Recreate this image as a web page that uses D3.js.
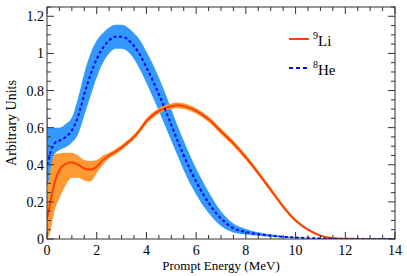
<!DOCTYPE html>
<html>
<head>
<meta charset="utf-8">
<script src="https://cdn.jsdelivr.net/npm/d3@7"></script>
<style>
  body { margin: 0; background: #fff; }
</style>
</head>
<body>
<script>
// energy grid (MeV)
var energy = [0, 0.05, 0.15, 0.3, 0.5, 0.75, 1.0, 1.25, 1.5, 1.75, 2.0, 2.25, 2.5, 2.75, 3.0, 3.25, 3.5, 3.75, 4.0, 4.5, 5.0, 5.25, 5.5, 6.0, 6.5, 7.0, 7.5, 8.0, 8.5, 9.0, 9.5, 10, 10.5, 11, 11.5, 12, 13, 14];

// 8He
var heMean = [0.40, 0.42, 0.47, 0.515, 0.53, 0.55, 0.585, 0.66, 0.78, 0.885, 0.97, 1.03, 1.07, 1.09, 1.09, 1.075, 1.04, 0.99, 0.925, 0.78, 0.615, 0.53, 0.45, 0.31, 0.195, 0.11, 0.058, 0.038, 0.026, 0.018, 0.012, 0.008, 0.005, 0.003, 0.001, 0, 0, 0];
var heLo   = [0.28, 0.30, 0.37, 0.455, 0.48, 0.495, 0.52, 0.565, 0.665, 0.77, 0.87, 0.95, 1.00, 1.025, 1.025, 1.01, 0.97, 0.91, 0.84, 0.69, 0.53, 0.45, 0.37, 0.24, 0.14, 0.07, 0.035, 0.024, 0.017, 0.012, 0.008, 0.005, 0.003, 0.002, 0, 0, 0, 0];
var heHi   = [0.74, 0.60, 0.60, 0.60, 0.60, 0.62, 0.655, 0.76, 0.895, 1.00, 1.07, 1.11, 1.14, 1.155, 1.155, 1.14, 1.11, 1.07, 1.01, 0.87, 0.70, 0.61, 0.53, 0.38, 0.255, 0.15, 0.083, 0.054, 0.036, 0.025, 0.016, 0.011, 0.007, 0.004, 0.002, 0, 0, 0];

// 9Li
var liMean = [0.11, 0.14, 0.21, 0.30, 0.372, 0.405, 0.413, 0.40, 0.38, 0.374, 0.39, 0.425, 0.45, 0.47, 0.493, 0.52, 0.55, 0.59, 0.635, 0.69, 0.715, 0.72, 0.716, 0.69, 0.645, 0.58, 0.515, 0.44, 0.355, 0.265, 0.175, 0.10, 0.05, 0.018, 0.004, 0.001, 0, 0];
var liLo   = [0.0, 0.01, 0.05, 0.15, 0.22, 0.29, 0.33, 0.33, 0.315, 0.31, 0.355, 0.40, 0.435, 0.455, 0.48, 0.507, 0.536, 0.576, 0.62, 0.675, 0.70, 0.705, 0.701, 0.675, 0.63, 0.565, 0.50, 0.426, 0.342, 0.253, 0.164, 0.092, 0.045, 0.015, 0.002, 0, 0, 0];
var liHi   = [0.25, 0.30, 0.38, 0.455, 0.462, 0.465, 0.465, 0.45, 0.425, 0.42, 0.425, 0.45, 0.465, 0.485, 0.506, 0.533, 0.564, 0.604, 0.65, 0.705, 0.73, 0.735, 0.731, 0.705, 0.66, 0.595, 0.53, 0.454, 0.368, 0.277, 0.186, 0.108, 0.055, 0.021, 0.006, 0.002, 0, 0];

var xTicks = [0, 2, 4, 6, 8, 10, 12, 14];
var yTicks = [0, 0.2, 0.4, 0.6, 0.8, 1, 1.2];
var yTickLabels = ["0", "0.2", "0.4", "0.6", "0.8", "1", "1.2"];

var W = 407, H = 276;
var margin = {top: 7, right: 12, bottom: 37, left: 47};
var width = W - margin.left - margin.right;
var height = H - margin.top - margin.bottom;
var serif = "'Liberation Serif', 'Times New Roman', Times, 'DejaVu Serif', serif";

var svg = d3.select("body").append("svg")
    .attr("width", W)
    .attr("height", H)
    .attr("font-family", serif)
    .style("font-family", serif);

var g = svg.append("g")
    .attr("transform", "translate(" + margin.left + "," + margin.top + ")");

var x = d3.scaleLinear().domain([0, 14]).range([0, width]);
var y = d3.scaleLinear().domain([0, 1.25]).range([height, 0]);

g.append("clipPath").attr("id", "clip")
  .append("rect").attr("width", width).attr("height", height);

var plot = g.append("g").attr("clip-path", "url(#clip)");

function band(lo, hi) {
    return d3.area()
        .x(function(d, i) { return x(energy[i]); })
        .y0(function(d, i) { return y(lo[i]); })
        .y1(function(d, i) { return y(hi[i]); })
        .curve(d3.curveMonotoneX)(energy);
}
function line(vals) {
    return d3.line()
        .x(function(d, i) { return x(energy[i]); })
        .y(function(d, i) { return y(vals[i]); })
        .curve(d3.curveMonotoneX)(energy);
}

plot.append("path").attr("d", band(heLo, heHi)).attr("fill", "#3399ff");
plot.append("path").attr("d", band(liLo, liHi)).attr("fill", "#ff9933");
plot.append("path").attr("d", line(liMean))
    .attr("fill", "none").attr("stroke", "#ff4000").attr("stroke-width", 2);
plot.append("path").attr("d", line(heMean))
    .attr("fill", "none").attr("stroke", "#0000ff").attr("stroke-width", 2)
    .attr("stroke-dasharray", "3,2.5");

// frame
g.append("rect").attr("width", width).attr("height", height)
    .attr("fill", "none").attr("stroke", "#333").attr("stroke-width", 1);

// ticks (inward, mirrored)
var xMinor = d3.range(0, 14.001, 0.5);
var yMinor = d3.range(0, 1.2501, 0.05);

function isMajor(v, step) { return Math.abs(v / step - Math.round(v / step)) < 1e-6; }

xMinor.forEach(function(v) {
    var len = isMajor(v, 2) ? 7 : 4;
    g.append("line").attr("x1", x(v)).attr("x2", x(v)).attr("y1", height).attr("y2", height - len)
        .attr("stroke", "#333");
    g.append("line").attr("x1", x(v)).attr("x2", x(v)).attr("y1", 0).attr("y2", len)
        .attr("stroke", "#333");
});
yMinor.forEach(function(v) {
    var len = isMajor(v, 0.2) ? 7 : 4;
    g.append("line").attr("x1", 0).attr("x2", len).attr("y1", y(v)).attr("y2", y(v))
        .attr("stroke", "#333");
    g.append("line").attr("x1", width).attr("x2", width - len).attr("y1", y(v)).attr("y2", y(v))
        .attr("stroke", "#333");
});

// tick labels
g.selectAll(".xl").data(xTicks).enter().append("text")
    .attr("x", function(d) { return x(d); })
    .attr("y", height + 16)
    .attr("text-anchor", "middle")
    .attr("font-size", "14px")
    .text(function(d) { return d; });

g.selectAll(".yl").data(yTicks).enter().append("text")
    .attr("x", -3)
    .attr("y", function(d) { return y(d) + 5; })
    .attr("text-anchor", "end")
    .attr("font-size", "14px")
    .text(function(d, i) { return yTickLabels[i]; });

// axis titles
svg.append("text")
    .attr("x", margin.left + width / 2)
    .attr("y", 270)
    .attr("text-anchor", "middle")
    .attr("font-size", "13px")
    .text("Prompt Energy (MeV)");

svg.append("text")
    .attr("transform", "translate(16," + (margin.top + height / 2) + ") rotate(-90)")
    .attr("text-anchor", "middle")
    .attr("font-size", "14px")
    .text("Arbitrary Units");

// legend
var leg = svg.append("g");
leg.append("line").attr("x1", 289).attr("x2", 309).attr("y1", 39).attr("y2", 39)
    .attr("stroke", "#ff4000").attr("stroke-width", 2);
var t1 = leg.append("text").attr("x", 313).attr("y", 46).attr("font-size", "15px");
t1.append("tspan").attr("font-size", "10px").attr("dy", -7).text("9");
t1.append("tspan").attr("dy", 7).text("Li");

leg.append("line").attr("x1", 289).attr("x2", 309).attr("y1", 68).attr("y2", 68)
    .attr("stroke", "#0000ff").attr("stroke-width", 2).attr("stroke-dasharray", "4,3");
var t2 = leg.append("text").attr("x", 313).attr("y", 75).attr("font-size", "15px");
t2.append("tspan").attr("font-size", "10px").attr("dy", -7).text("8");
t2.append("tspan").attr("dy", 7).text("He");
</script>
</body>
</html>
